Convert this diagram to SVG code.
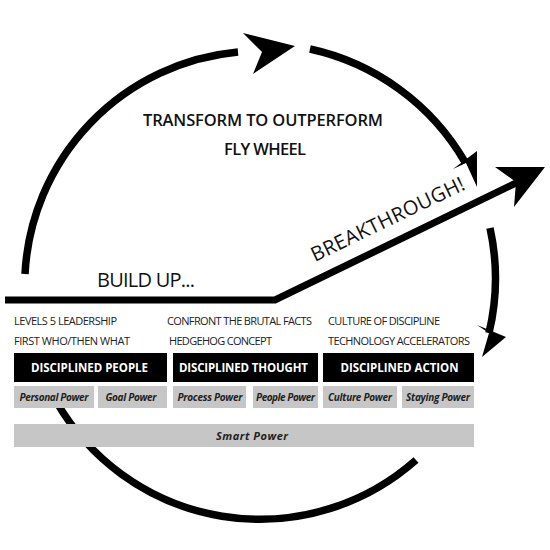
<svg xmlns="http://www.w3.org/2000/svg" width="550" height="550" viewBox="0 0 550 550">
<style>
.arc{fill:none;stroke:#000;stroke-width:7.5}
.head{fill:#000}
.title{font-family:"Open Sans",sans-serif;font-weight:600;font-size:16.5px;fill:#111}
.big{font-family:"Open Sans",sans-serif;font-size:20px;fill:#111}
.small{font-family:"Open Sans",sans-serif;font-size:11px;fill:#222}
.bar{fill:#000}
.barText{font-family:"Open Sans",sans-serif;font-weight:700;font-size:11.5px;fill:#fff;letter-spacing:1px}
.box{fill:#c6c6c6}
.boxText{font-family:"Open Sans",sans-serif;font-weight:700;font-style:italic;font-size:10px;fill:#222}
</style>
<rect width="550" height="550" fill="#fff"/>
<g id="connectors">
  <path class="arc" d="M 25 274 A 235 235 0 0 1 238 52"/>
  <polygon class="head" points="243,33 295,46 253,74 262,52"/>
  <path class="arc" d="M 310 49 A 238 238 0 0 1 465 162"/>
  <polygon class="head" points="453,169 477,151 477,187 466,163"/>
  <path class="arc" d="M 490 228 A 235 235 0 0 1 489 333"/>
  <polygon class="head" points="477,325 506,337 482,357 489,333"/>
  <path class="arc" d="M 56 401 A 235 235 0 0 0 416 460"/>
  <polyline fill="none" stroke="#000" stroke-width="7" points="5,300 275,300 518,182"/>
  <polygon class="head" points="495,167 545,167 514,207 516,182"/>
</g>
<g id="title">
  <text class="title" x="263" y="126" text-anchor="middle" textLength="240">TRANSFORM TO OUTPERFORM</text>
  <text class="title" x="265" y="155" text-anchor="middle" textLength="82">FLY WHEEL</text>
</g>
<g id="build-up">
  <text class="big" x="97" y="287" textLength="98">BUILD UP...</text>
</g>
<g id="breakthrough">
  <text class="big" transform="translate(315 262) rotate(-25.8)" x="0" y="0" textLength="168">BREAKTHROUGH!</text>
</g>
<g id="people">
  <text class="small" x="14" y="325" textLength="103">LEVELS 5 LEADERSHIP</text>
  <text class="small" x="14" y="345" textLength="116">FIRST WHO/THEN WHAT</text>
  <rect class="bar" x="14" y="353" width="153" height="29"/>
  <text class="barText" x="90" y="371.5" text-anchor="middle" textLength="118">DISCIPLINED PEOPLE</text>
  <rect class="box" x="14" y="386" width="80" height="22"/>
  <text class="boxText" x="54" y="400.5" text-anchor="middle" textLength="69">Personal Power</text>
  <rect class="box" x="98" y="386" width="69" height="22"/>
  <text class="boxText" x="131" y="400.5" text-anchor="middle" textLength="51">Goal Power</text>
</g>
<g id="thought">
  <text class="small" x="167" y="325" textLength="145">CONFRONT THE BRUTAL FACTS</text>
  <text class="small" x="169" y="345" textLength="103">HEDGEHOG CONCEPT</text>
  <rect class="bar" x="173" y="353" width="145" height="29"/>
  <text class="barText" x="244" y="371.5" text-anchor="middle" textLength="130">DISCIPLINED THOUGHT</text>
  <rect class="box" x="173" y="386" width="73" height="22"/>
  <text class="boxText" x="210" y="400.5" text-anchor="middle" textLength="65">Process Power</text>
  <rect class="box" x="253" y="386" width="65" height="22"/>
  <text class="boxText" x="285.5" y="400.5" text-anchor="middle" textLength="59">People Power</text>
</g>
<g id="action">
  <text class="small" x="328" y="325" textLength="112">CULTURE OF DISCIPLINE</text>
  <text class="small" x="328" y="345" textLength="142">TECHNOLOGY ACCELERATORS</text>
  <rect class="bar" x="323" y="353" width="151" height="29"/>
  <text class="barText" x="400" y="371.5" text-anchor="middle" textLength="119">DISCIPLINED ACTION</text>
  <rect class="box" x="323" y="386" width="74" height="22"/>
  <text class="boxText" x="360" y="400.5" text-anchor="middle" textLength="64">Culture Power</text>
  <rect class="box" x="402" y="386" width="72" height="22"/>
  <text class="boxText" x="438" y="400.5" text-anchor="middle" textLength="64">Staying Power</text>
</g>
<g id="smart-power">
  <rect class="box" x="14" y="424" width="460" height="23"/>
  <text class="boxText" x="252" y="439.5" text-anchor="middle" textLength="72" style="font-size:11px">Smart Power</text>
</g>
</svg>
